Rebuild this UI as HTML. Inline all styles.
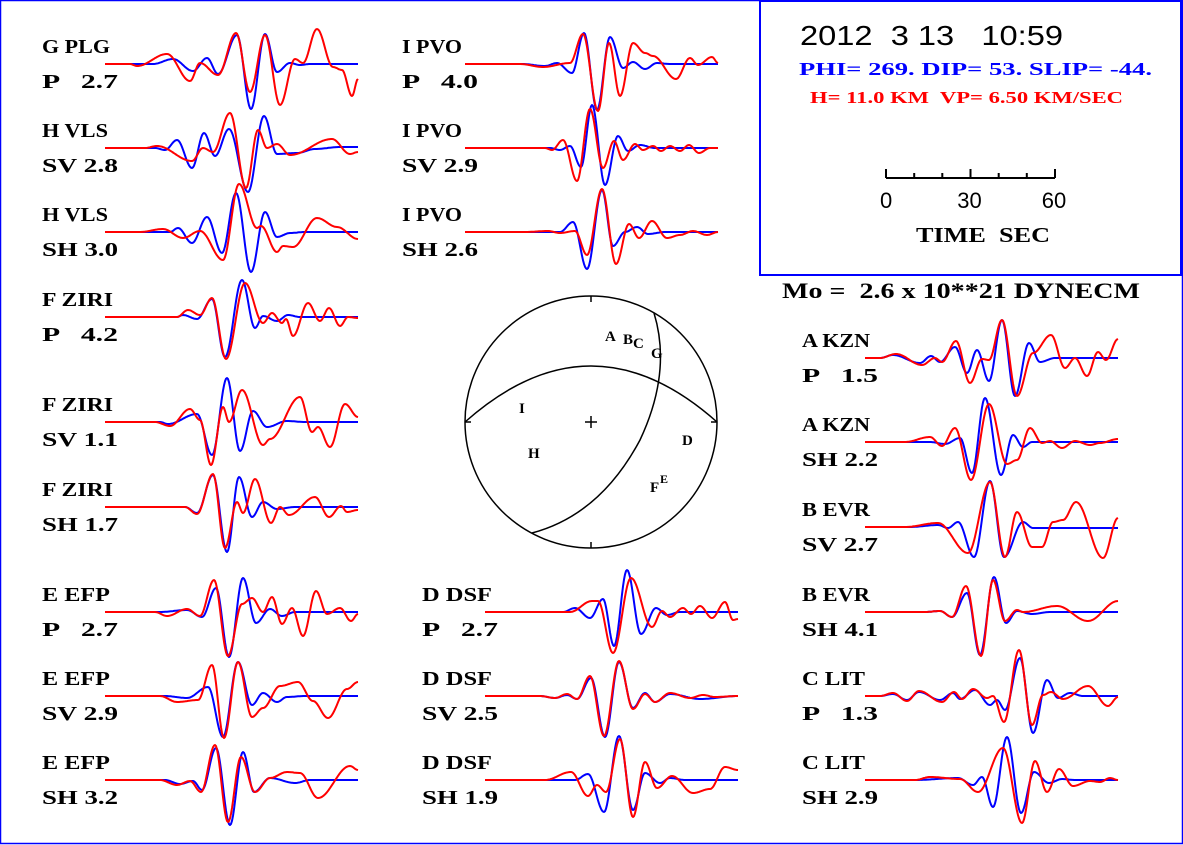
<!DOCTYPE html>
<html><head><meta charset="utf-8"><style>
html,body{margin:0;padding:0;background:#fff}
svg{display:block}
text{white-space:pre}
.lb{font-family:"Liberation Serif",serif;font-weight:bold;font-size:20px;fill:#000;white-space:pre}
</style></head><body>
<svg id="fig" width="1183" height="845" viewBox="0 0 1183 845" xmlns="http://www.w3.org/2000/svg">
<rect x="0.5" y="0.5" width="1182" height="843" fill="#fff" stroke="#0000ff" stroke-width="1.5"/>
<g>
<rect x="760" y="1" width="421" height="274" fill="none" stroke="#0000ff" stroke-width="2"/>
<text x="800" y="45" font-family="Liberation Sans,sans-serif" font-size="28" textLength="263" lengthAdjust="spacingAndGlyphs" xml:space="preserve">2012  3 13   10:59</text>
<text x="799" y="75" font-family="Liberation Serif,serif" font-weight="bold" font-size="18" fill="#0000ff" textLength="353" lengthAdjust="spacingAndGlyphs" xml:space="preserve">PHI= 269. DIP= 53. SLIP= -44.</text>
<text x="810" y="103" font-family="Liberation Serif,serif" font-weight="bold" font-size="17" fill="#ff0000" textLength="313" lengthAdjust="spacingAndGlyphs" xml:space="preserve">H= 11.0 KM  VP= 6.50 KM/SEC</text>
<g id="scalebar"></g>
<text x="916" y="242" font-family="Liberation Serif,serif" font-weight="bold" font-size="21" textLength="134" lengthAdjust="spacingAndGlyphs" xml:space="preserve">TIME  SEC</text>
</g>
<text x="782" y="298" font-family="Liberation Serif,serif" font-weight="bold" font-size="22" textLength="358" lengthAdjust="spacingAndGlyphs" xml:space="preserve">Mo =  2.6 x 10**21 DYNECM</text>
<g>
<circle cx="591" cy="422" r="126" fill="none" stroke="#000" stroke-width="1.5"/>
<path d="M465 422 Q591 310 717 422" fill="none" stroke="#000" stroke-width="1.5"/>
<path d="M654 313 Q672 372 640 440 Q600 515 532 533" fill="none" stroke="#000" stroke-width="1.5"/>
<path d="M591 296v6M591 542v6M465 422h6M711 422h6M585 422h12M591 416v12" stroke="#000" stroke-width="1.5"/>
<g font-family="Liberation Serif,serif" font-weight="bold" font-size="15">
<text x="605" y="341">A</text>
<text x="623" y="344">B</text>
<text x="633" y="348">C</text>
<text x="651" y="358">G</text>
<text x="519" y="413">I</text>
<text x="528" y="458">H</text>
<text x="682" y="445">D</text>
<text x="650" y="492">F</text>
<text x="660" y="483" font-size="12">E</text>
</g></g>
<g id="traces"></g>
</svg>
<script>
// time axis ticks (seconds) for scale bar
const scaleTicks=[0,10,20,30,40,50,60];
const scaleLabels=["0","30","60"];
// Waveform keypoints: [time index (0-253), amplitude px up]
const G_PLG_syn=[[0,0],[48,0],[68,5],[88,-7],[102,6],[113,-10],[132,29],[146,-45],[160,30],[172,-8],[185,1],[195,-1],[205,0],[253,0]];
const G_PLG_obs=[[0,0],[25,0],[32,-2],[62,10],[85,-17],[95,1],[113,-11],[131,31],[145,-28],[160,29],[175,-41],[190,5],[198,1],[212,35],[228,-3],[237,-6],[247,-32],[253,-15]];
const VLS_SV_syn=[[0,0],[50,0],[60,-2],[72,8],[87,-20],[99,15],[110,-8],[124,19],[143,-44],[159,32],[172,-6],[192,-5],[210,-1],[235,1],[253,1]];
const VLS_SV_obs=[[0,0],[40,0],[52,2],[87,-13],[98,0],[108,-4],[125,35],[141,-40],[153,18],[162,0],[172,4],[185,-7],[227,9],[245,-6],[253,-4]];
const VLS_SH_syn=[[0,0],[65,0],[73,4],[87,-11],[102,15],[117,-21],[131,39],[146,-40],[160,20],[172,-5],[185,-1],[200,0],[253,0]];
const VLS_SH_obs=[[0,0],[35,0],[58,3],[78,-6],[95,1],[118,-28],[134,48],[152,4],[156,6],[172,-20],[178,-14],[188,-15],[212,14],[232,5],[253,-7]];
const ZIRI_P_syn=[[0,0],[72,0],[78,2],[92,-2],[107,18],[120,-40],[137,37],[150,-11],[158,1],[172,-4],[183,2],[195,0],[253,0]];
const ZIRI_P_obs=[[0,0],[72,0],[83,7],[95,2],[107,19],[121,-42],[140,34],[158,-6],[167,4],[177,-6],[181,-2],[188,-19],[203,14],[215,-4],[224,9],[235,-9],[243,0],[253,-1]];
const ZIRI_SV_syn=[[0,0],[55,0],[63,-2],[92,8],[107,-33],[122,44],[135,-29],[148,11],[162,-5],[182,1],[200,0],[253,0]];
const ZIRI_SV_obs=[[0,0],[50,0],[65,-4],[85,13],[95,2],[106,-43],[118,15],[124,0],[137,32],[158,-23],[165,-17],[195,25],[207,-10],[213,-5],[225,-25],[240,18],[253,5]];
const ZIRI_SH_syn=[[0,0],[80,0],[92,-6],[108,32],[122,-45],[134,30],[147,-10],[158,5],[172,-2],[190,0],[253,0]];
const ZIRI_SH_obs=[[0,0],[80,0],[92,-7],[108,33],[120,-41],[132,5],[138,-6],[150,28],[166,-16],[175,0],[184,-8],[210,10],[224,-10],[236,1],[242,-5],[253,-3]];
const EFP_P_syn=[[0,0],[55,0],[82,2],[97,-5],[111,24],[124,-45],[138,34],[151,-11],[165,3],[177,-4],[190,0],[253,0]];
const EFP_P_obs=[[0,0],[50,0],[62,-4],[82,3],[95,-4],[109,32],[123,-44],[137,8],[147,14],[158,0],[167,15],[177,-12],[187,4],[198,-24],[211,21],[222,-2],[235,4],[246,-9],[253,-2]];
const EFP_SV_syn=[[0,0],[60,0],[82,-2],[103,9],[118,-41],[133,34],[147,-9],[158,3],[172,-6],[182,-1],[200,0],[253,0]];
const EFP_SV_obs=[[0,0],[55,0],[72,-6],[93,-4],[107,31],[119,-42],[133,34],[147,-21],[158,-12],[175,10],[193,14],[208,-5],[223,-22],[242,7],[253,14]];
const EFP_SH_syn=[[0,0],[60,0],[75,-4],[88,-1],[97,-10],[111,32],[125,-45],[138,28],[149,-12],[165,2],[190,-3],[205,0],[253,0]];
const EFP_SH_obs=[[0,0],[55,0],[72,-5],[85,-1],[96,-12],[110,35],[123,-42],[136,23],[150,-12],[165,2],[182,8],[195,7],[213,-18],[245,14],[253,10]];
const PVO_P_syn=[[0,0],[57,0],[80,-2],[92,1],[107,-9],[119,31],[132,-46],[145,27],[158,-4],[168,2],[180,-5],[192,1],[205,0],[253,0]];
const PVO_P_obs=[[0,0],[55,0],[78,-3],[105,1],[118,30],[133,-47],[144,21],[155,-32],[168,21],[180,11],[188,8],[211,-15],[225,6],[233,-1],[247,7],[253,1]];
const PVO_SV_syn=[[0,0],[85,0],[95,-2],[105,2],[116,-19],[127,43],[140,-37],[153,12],[163,-3],[175,3],[190,0],[253,0]];
const PVO_SV_obs=[[0,0],[80,0],[87,-2],[98,8],[112,-33],[125,39],[138,-20],[149,7],[158,-12],[170,4],[178,-2],[188,2],[196,-3],[205,2],[215,-3],[224,3],[234,-5],[245,0],[253,0]];
const PVO_SH_syn=[[0,0],[57,0],[95,0],[108,10],[122,-37],[137,42],[148,-14],[160,0],[172,5],[183,-2],[200,0],[253,0]];
const PVO_SH_obs=[[0,0],[60,0],[83,1],[95,-1],[110,1],[122,-23],[137,43],[151,-32],[164,8],[174,-6],[187,11],[202,-6],[215,-3],[228,1],[242,-3],[253,0]];
const DSF_P_syn=[[0,0],[78,0],[90,4],[105,-6],[118,13],[129,-34],[142,42],[156,-22],[171,4],[182,-3],[195,0],[253,0]];
const DSF_P_obs=[[0,0],[85,0],[107,11],[113,11],[128,-41],[146,34],[167,-15],[177,1],[185,-5],[198,4],[206,-2],[215,6],[227,-6],[240,10],[248,-8],[253,-7]];
const DSF_SV_syn=[[0,0],[55,0],[70,-2],[82,1],[92,-3],[106,18],[120,-41],[134,34],[148,-12],[160,3],[170,-6],[185,2],[215,-3],[253,0]];
const DSF_SV_obs=[[0,0],[55,0],[70,-2],[82,2],[92,-3],[105,20],[119,-40],[134,35],[148,-13],[160,2],[170,-6],[185,3],[205,-2],[218,1],[230,-1],[253,0]];
const DSF_SH_syn=[[0,0],[55,0],[90,0],[103,6],[119,-32],[134,44],[148,-30],[160,7],[175,-3],[185,2],[200,0],[253,0]];
const DSF_SH_obs=[[0,0],[60,0],[86,8],[103,-16],[112,-5],[121,-12],[135,41],[148,-37],[160,18],[172,-8],[187,4],[208,-13],[225,-9],[240,13],[253,10]];
const KZN_P_syn=[[0,0],[15,0],[28,3],[55,-5],[66,2],[75,-4],[90,11],[102,-15],[112,8],[124,-23],[137,38],[150,-38],[164,15],[175,-4],[190,0],[253,0]];
const KZN_P_obs=[[0,0],[15,0],[31,4],[57,-7],[70,0],[77,-4],[91,17],[105,-25],[117,-1],[124,-2],[137,38],[152,-38],[168,5],[186,23],[200,-10],[210,0],[222,-18],[233,6],[241,-2],[253,19]];
const KZN_SH_syn=[[0,0],[40,0],[65,0],[80,-2],[95,4],[107,-31],[120,44],[136,-33],[148,7],[158,-5],[167,0],[253,0]];
const KZN_SH_obs=[[0,0],[40,0],[65,5],[77,-4],[90,14],[106,-38],[124,38],[142,-22],[152,-18],[165,14],[177,-1],[185,1],[197,-6],[210,1],[225,-3],[235,-1],[253,3]];
const EVR_SV_syn=[[0,0],[45,0],[73,2],[83,-1],[93,5],[109,-30],[125,46],[139,-30],[158,5],[168,-1],[200,-1],[253,-1]];
const EVR_SV_obs=[[0,0],[40,0],[73,4],[103,-26],[125,45],[140,-30],[152,15],[167,-20],[177,-20],[188,5],[198,7],[211,25],[238,-31],[253,9]];
const EVR_SH_syn=[[0,0],[60,0],[75,1],[87,-5],[102,19],[115,-43],[129,35],[141,-11],[152,1],[167,-2],[185,0],[253,0]];
const EVR_SH_obs=[[0,0],[60,0],[75,1],[87,-5],[101,26],[116,-44],[128,32],[140,-9],[152,2],[158,0],[192,6],[223,-9],[253,11]];
const LIT_P_syn=[[0,0],[15,0],[28,2],[42,-4],[54,4],[75,-4],[88,3],[95,-3],[110,6],[125,-9],[132,-4],[140,-14],[155,38],[168,-37],[182,16],[193,-2],[205,3],[218,0],[253,0]];
const LIT_P_obs=[[0,0],[15,0],[28,3],[42,-5],[54,5],[77,-6],[89,4],[97,-3],[108,7],[122,-2],[128,0],[139,-26],[154,46],[167,-29],[178,1],[186,4],[198,-3],[223,10],[243,-10],[253,-1]];
const LIT_SH_syn=[[0,0],[50,0],[93,2],[108,-5],[117,3],[128,-27],[142,43],[156,-33],[169,8],[184,-3],[197,1],[210,0],[253,0]];
const LIT_SH_obs=[[0,0],[50,0],[65,3],[95,1],[113,-12],[138,32],[157,-43],[170,19],[182,-12],[194,11],[208,-6],[225,-1],[235,-2],[245,2],[253,0]];

const SVGNS="http://www.w3.org/2000/svg";
const root=document.getElementById('traces');
const TMAX=253, WIDTH=253;
function xScale(x0,t){return x0+t*WIDTH/TMAX;}
function yScale(base,a){return base-a;}
function wavePath(pts,x0,base){
  let d='M'+xScale(x0,pts[0][0]).toFixed(1)+' '+yScale(base,pts[0][1]).toFixed(1);
  for(let i=1;i<pts.length;i++){
    const [t0,a0]=pts[i-1],[t1,a1]=pts[i];
    const n=Math.max(2,Math.round(t1-t0));
    for(let k=1;k<=n;k++){
      const u=k/n,t=t0+(t1-t0)*u,a=a0+(a1-a0)*(1-Math.cos(Math.PI*u))/2;
      d+='L'+xScale(x0,t).toFixed(1)+' '+yScale(base,a).toFixed(1);
    }
  }
  return d;
}
function addText(txt,x,y,len,name){
  const el=document.createElementNS(SVGNS,'text');
  el.setAttribute('x',x);el.setAttribute('y',y);el.setAttribute('class','lb');
  el.setAttribute('textLength',len);el.setAttribute('lengthAdjust','spacingAndGlyphs');
  
  
  el.textContent=txt;root.appendChild(el);
}
const panels=[
 ["G PLG","P   2.7",42,105,64,G_PLG_syn,G_PLG_obs,68],
 ["H VLS","SV 2.8",42,105,148,VLS_SV_syn,VLS_SV_obs,66],
 ["H VLS","SH 3.0",42,105,232,VLS_SH_syn,VLS_SH_obs,66],
 ["F ZIRI","P   4.2",42,105,317,ZIRI_P_syn,ZIRI_P_obs,71],
 ["F ZIRI","SV 1.1",42,105,422,ZIRI_SV_syn,ZIRI_SV_obs,71],
 ["F ZIRI","SH 1.7",42,105,507,ZIRI_SH_syn,ZIRI_SH_obs,71],
 ["E EFP","P   2.7",42,105,612,EFP_P_syn,EFP_P_obs,68],
 ["E EFP","SV 2.9",42,105,696,EFP_SV_syn,EFP_SV_obs,68],
 ["E EFP","SH 3.2",42,105,780,EFP_SH_syn,EFP_SH_obs,68],
 ["I PVO","P   4.0",402,465,64,PVO_P_syn,PVO_P_obs,60],
 ["I PVO","SV 2.9",402,465,148,PVO_SV_syn,PVO_SV_obs,60],
 ["I PVO","SH 2.6",402,465,232,PVO_SH_syn,PVO_SH_obs,60],
 ["D DSF","P   2.7",422,485,612,DSF_P_syn,DSF_P_obs,70],
 ["D DSF","SV 2.5",422,485,696,DSF_SV_syn,DSF_SV_obs,70],
 ["D DSF","SH 1.9",422,485,780,DSF_SH_syn,DSF_SH_obs,70],
 ["A KZN","P   1.5",802,865,358,KZN_P_syn,KZN_P_obs,68],
 ["A KZN","SH 2.2",802,865,442,KZN_SH_syn,KZN_SH_obs,68],
 ["B EVR","SV 2.7",802,865,527,EVR_SV_syn,EVR_SV_obs,68],
 ["B EVR","SH 4.1",802,865,612,EVR_SH_syn,EVR_SH_obs,68],
 ["C LIT","P   1.3",802,865,696,LIT_P_syn,LIT_P_obs,63],
 ["C LIT","SH 2.9",802,865,780,LIT_SH_syn,LIT_SH_obs,63]
];
panels.forEach(p=>{
  const [st,ph,lx,x0,base,syn,obs,w1]=p;
  const key=(st+'-'+ph.split(' ')[0]).toLowerCase().replace(/\s+/g,'-');
  addText(st,lx,base-11,w1,'station-label-'+key);
  addText(ph,lx,base+24,76,'phase-label-'+key);
  [[syn,'#0000ff','synthetic'],[obs,'#ff0000','observed']].forEach(s=>{
    const path=document.createElementNS(SVGNS,'path');
    path.setAttribute('d',wavePath(s[0],x0,base));
    path.setAttribute('fill','none');path.setAttribute('stroke',s[1]);
    path.setAttribute('stroke-width','2');path.setAttribute('stroke-linejoin','round');
    
    
    root.appendChild(path);
  });
});
// scale bar
const sb=document.getElementById('scalebar');
const sx=t=>886+t*(1055-886)/60;
const bar=document.createElementNS(SVGNS,'path');
let bd='M'+sx(0)+' 178H'+sx(60);
scaleTicks.forEach(t=>{const h=(t%30===0)?9:5;bd+='M'+sx(t).toFixed(1)+' 178v-'+h;});
bar.setAttribute('d',bd);bar.setAttribute('stroke','#000');bar.setAttribute('stroke-width','2');bar.setAttribute('fill','none');


sb.appendChild(bar);
scaleLabels.forEach(l=>{
  const tx=document.createElementNS(SVGNS,'text');
  tx.setAttribute('x',sx(+l)-(l==="0"?6:1));tx.setAttribute('y',208);tx.setAttribute('text-anchor',l==="0"?'start':'middle');
  tx.setAttribute('font-family','Liberation Sans,sans-serif');tx.setAttribute('font-size','22');
  
  
  tx.textContent=l;sb.appendChild(tx);
});
</script>
</body></html>
